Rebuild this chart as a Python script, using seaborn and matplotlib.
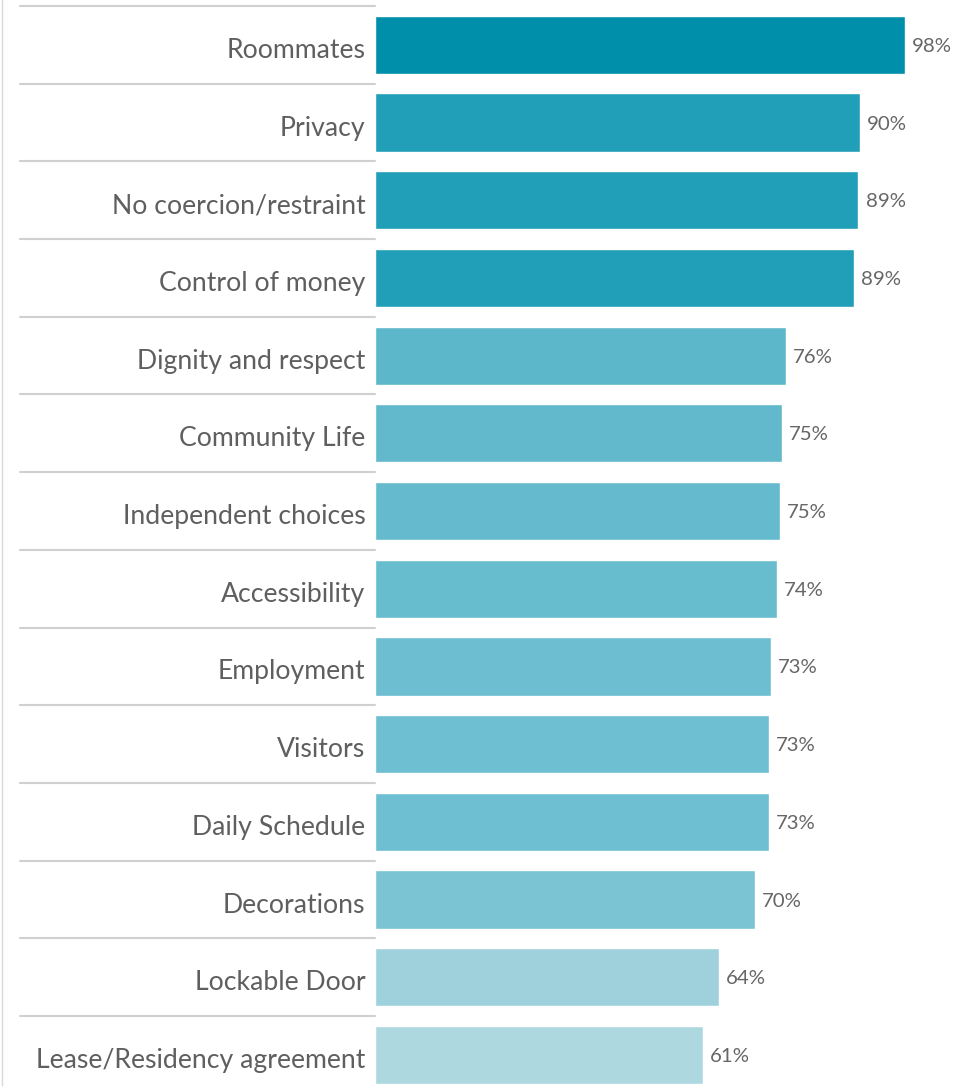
import matplotlib
matplotlib.use("Agg")
import matplotlib.pyplot as plt
import matplotlib.transforms as mtransforms
from matplotlib.lines import Line2D
import seaborn as sns
import pandas as pd

categorias = ["Roommates", "Privacy", "No coercion/restraint", "Control of money",
              "Dignity and respect", "Community Life", "Independent choices",
              "Accessibility", "Employment", "Visitors", "Daily Schedule",
              "Decorations", "Lockable Door", "Lease/Residency agreement"]
valores = [98.0, 89.6, 89.4, 88.6, 76.0, 75.3, 74.9, 74.3, 73.2, 72.9, 72.9,
           70.3, 63.6, 60.7]
colores = ["#008FAB", "#219EB8", "#219EB8", "#219EB8", "#5DB7CB", "#62B9CC",
           "#65BBCD", "#67BCCE", "#6CBED0", "#6DBFD1", "#6DBFD1", "#7BC4D3",
           "#9ED1DC", "#ADD8E0"]

datos = pd.DataFrame({"categoria": categorias, "valor": valores})

sns.set_style("white")
plt.rcParams["font.family"] = ["Lato", "DejaVu Sans"]

fig = plt.figure(figsize=(9.74, 10.86), dpi=100)
W, H = 974, 1086
ax = fig.add_axes([375 / W, 0, (974 - 375) / W, 1 - 6 / H])

sns.barplot(data=datos, x="valor", y="categoria", hue="categoria", palette=colores,
            legend=False, width=0.75, saturation=1, orient="h", ax=ax)

ax.set_xlim(0, 98 * (974 - 375) / 530)
ax.set_ylim(13.4, -0.5)
ax.set_xlabel("")
ax.set_ylabel("")
ax.set_xticks([])
ax.tick_params(axis="y", length=0, pad=7, labelsize=19.2, labelcolor="#5F5F5F")
bajar = mtransforms.ScaledTranslation(0, -3 / 100, fig.dpi_scale_trans)
for lbl in ax.get_yticklabels():
    lbl.set_transform(lbl.get_transform() + bajar)
for s in ax.spines.values():
    s.set_visible(False)

# etiquetas de porcentaje
for i, v in enumerate(valores):
    ax.text(v + 1.3, i + 0.02, f"{v:.0f}%", va="center", ha="left", fontsize=14.7,
            color="#666666", clip_on=False)

# lineas separadoras a la izquierda
trans = mtransforms.blended_transform_factory(fig.transFigure, ax.transData)
for i in range(len(categorias)):
    ax.add_line(Line2D([20 / W, 375 / W], [i - 0.5, i - 0.5], transform=trans,
                       color="#D0D0D0", lw=1.5, clip_on=False))

fig.add_artist(Line2D([1.5 / W, 1.5 / W], [0, 1], color="#D9D9D9", lw=1))

fig.savefig("out.png", dpi=100)
